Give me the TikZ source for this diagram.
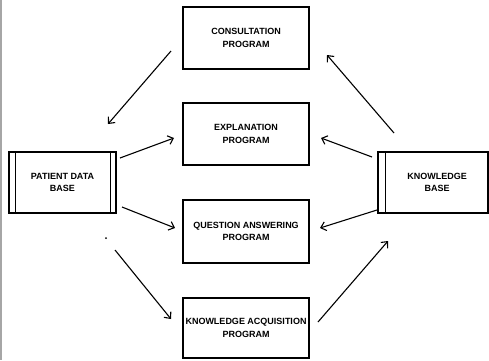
\documentclass[tikz,border=0pt]{standalone}
\usepackage{fontspec}
\setmainfont{Liberation Sans}
\usetikzlibrary{arrows.meta}
\begin{document}
\begin{tikzpicture}[x=1pt,y=-1pt,
  prog/.style={draw, line width=1.2pt, rectangle, minimum width=126pt,
    minimum height=62pt, inner sep=0pt, align=center,
    font=\fontsize{9}{12.5}\selectfont\bfseries},
  store/.style={prog, minimum width=107pt, minimum height=61pt},
  flow/.style={line width=1.1pt, -{Straight Barb[length=5pt,width=9pt,line width=1.1pt]}}]
\useasboundingbox (0,0) rectangle (489,360);
% page edge rule
\draw[line width=1.6pt, gray!70] (1,0) -- (1,360);

% program boxes
\node[prog] (cons) at (246,38) {CONSULTATION\\PROGRAM};
\node[prog] (expl) at (246,134) {EXPLANATION\\PROGRAM};
\node[prog, minimum height=63pt] (qa) at (246,231.5) {QUESTION ANSWERING\\PROGRAM};
\node[prog, minimum height=60pt] (ka) at (246,328) {KNOWLEDGE ACQUISITION\\PROGRAM};

% data stores
\node[store] (pdb) at (62.5,182.5) {PATIENT DATA\\BASE};
\draw[line width=1.2pt] ([xshift=7pt]pdb.north west) -- ([xshift=7pt]pdb.south west);
\draw[line width=1.2pt] ([xshift=-6pt]pdb.north east) -- ([xshift=-6pt]pdb.south east);
\node[store, minimum width=110pt] (kb) at (433,182.5) {\hspace*{8pt}KNOWLEDGE\\\hspace*{8pt}BASE};
\draw[line width=1.2pt] ([xshift=8pt]kb.north west) -- ([xshift=8pt]kb.south west);

% connector end points
\coordinate (c1) at (171,51);   \coordinate (p1) at (108,124);
\coordinate (p2) at (120,158);  \coordinate (e1) at (174,138);
\coordinate (p3) at (122,207);  \coordinate (q1) at (175,228);
\coordinate (p4) at (115,250);  \coordinate (k1) at (171,319);
\coordinate (b1) at (394,133);  \coordinate (c2) at (327,55);
\coordinate (b2) at (372,157);  \coordinate (e2) at (321,138);
\coordinate (b3) at (377,210);  \coordinate (q2) at (320,228);
\coordinate (k2) at (318,322);  \coordinate (b4) at (388,241);

\draw[flow] (c1) -- (p1);
\draw[flow] (p2) -- (e1);
\draw[flow] (p3) -- (q1);
\draw[flow] (p4) -- (k1);
\draw[flow] (b1) -- (c2);
\draw[flow] (b2) -- (e2);
\draw[flow] (b3) -- (q2);
\draw[flow] (k2) -- (b4);
\fill (106,238) circle (1pt);
\end{tikzpicture}
\end{document}
